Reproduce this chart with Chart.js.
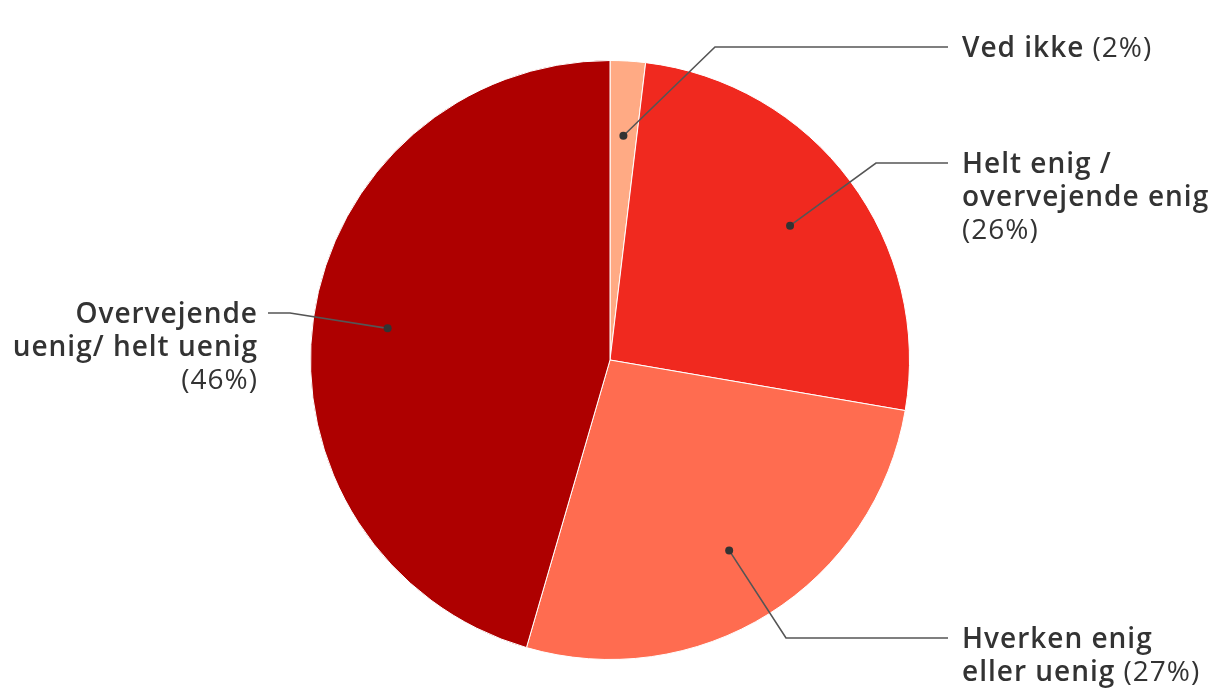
<!DOCTYPE html>
<html>
<head>
<meta charset="utf-8">
<script src="https://cdn.jsdelivr.net/npm/chart.js@4/dist/chart.umd.min.js"></script>
<style>
  html, body { margin: 0; padding: 0; background: #fff; }
  #wrap { width: 1220px; height: 700px; position: relative; }
</style>
</head>
<body>
<div id="wrap"><canvas id="pieChart"></canvas></div>
<script>
// slices clockwise from 12 o'clock
const categories = ['Ved ikke', 'Helt enig / overvejende enig', 'Hverken enig eller uenig', 'Overvejende uenig/ helt uenig'];
const shares = [1.9, 25.8, 26.8, 45.5];
const pctLabels = ['(2%)', '(26%)', '(27%)', '(46%)'];
const labelLines = [
  ['Ved ikke'],
  ['Helt enig /', 'overvejende enig'],
  ['Hverken enig', 'eller uenig'],
  ['Overvejende', 'uenig/ helt uenig']
];
const pctOwnLine = [false, true, false, true];
const sliceColors = ['#FFAA84', '#F0291F', '#FF6C50', '#AE0000'];

// elbow of each leader line, relative to pie centre; side of label
const elbows = [
  { dx: 105, dy: -313, side: 'right' },
  { dx: 266, dy: -197, side: 'right' },
  { dx: 176, dy: 278, side: 'right' },
  { dx: -320, dy: -47, side: 'left' }
];

const FONT = '"Open Sans", Lato, sans-serif';
const BOLD = '600 28px ' + FONT;
const LIGHT = '400 28px ' + FONT;

const leaderLabels = {
  id: 'leaderLabels',
  afterDraw(chart) {
    const ctx = chart.ctx;
    const meta = chart.getDatasetMeta(0);
    ctx.save();
    ctx.letterSpacing = '1px';
    meta.data.forEach((arc, i) => {
      const p = arc.getProps(['x', 'y', 'startAngle', 'endAngle', 'outerRadius'], true);
      const mid = (p.startAngle + p.endAngle) / 2;
      const r = p.outerRadius * 0.75;
      const dotX = p.x + Math.cos(mid) * r;
      const dotY = p.y + Math.sin(mid) * r;
      const e = elbows[i];
      const ex = p.x + e.dx, ey = p.y + e.dy;
      const endX = e.side === 'right' ? p.x + 338 : p.x - 342;

      ctx.strokeStyle = '#555';
      ctx.lineWidth = 1.6;
      ctx.beginPath();
      ctx.moveTo(dotX, dotY);
      ctx.lineTo(ex, ey);
      ctx.lineTo(endX, ey);
      ctx.stroke();

      ctx.fillStyle = '#333';
      ctx.beginPath();
      ctx.arc(dotX, dotY, 4, 0, Math.PI * 2);
      ctx.fill();

      // build text lines as segments [text, font]
      const lines = labelLines[i].map(t => [[t, BOLD]]);
      if (pctOwnLine[i]) lines.push([[pctLabels[i], LIGHT]]);
      else lines[lines.length - 1].push([' ' + pctLabels[i], LIGHT]);

      ctx.textBaseline = 'alphabetic';
      ctx.textAlign = 'left';
      lines.forEach((segs, li) => {
        const baseY = ey + 10 + li * 33;
        let w = 0;
        segs.forEach(s => { ctx.font = s[1]; w += ctx.measureText(s[0]).width; });
        let x = e.side === 'right' ? p.x + 352 : p.x - 352 - w;
        segs.forEach(s => {
          ctx.font = s[1];
          ctx.fillText(s[0], x, baseY);
          x += ctx.measureText(s[0]).width;
        });
      });
    });
    ctx.restore();
  }
};

new Chart(document.getElementById('pieChart'), {
  type: 'pie',
  data: {
    labels: categories,
    datasets: [{
      data: shares,
      backgroundColor: sliceColors,
      borderColor: '#ffffff',
      borderWidth: 1
    }]
  },
  options: {
    responsive: true,
    maintainAspectRatio: false,
    animation: false,
    layout: { padding: { left: 310, right: 310, top: 60, bottom: 40 } },
    plugins: {
      legend: { display: false },
      tooltip: { enabled: false }
    }
  },
  plugins: [leaderLabels]
});
</script>
</body>
</html>
